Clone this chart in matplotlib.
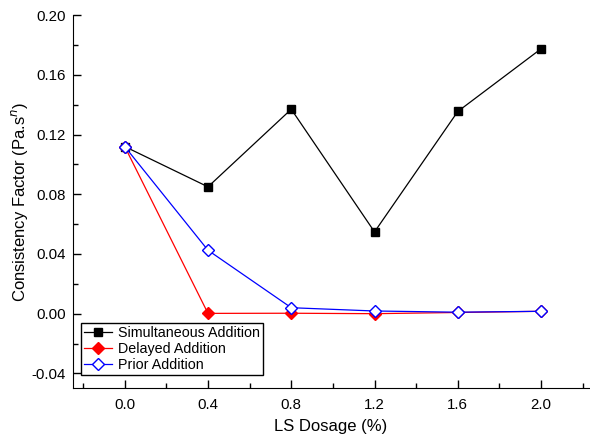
import matplotlib
matplotlib.use("Agg")
import matplotlib.pyplot as plt
from matplotlib.ticker import MultipleLocator, FormatStrFormatter

plt.rcParams['font.family'] = ['Liberation Sans', 'DejaVu Sans']

# Dados
dosagem = [0.0, 0.4, 0.8, 1.2, 1.6, 2.0]
simultanea = [0.1120, 0.0850, 0.1370, 0.0548, 0.1355, 0.1775]
atrasada = [0.1120, 0.0002, 0.0003, 0.0000, 0.0008, 0.0016]
previa = [0.1120, 0.0425, 0.0040, 0.0018, 0.0010, 0.0016]

fig = plt.figure(figsize=(5.9, 4.41), dpi=100)
ax = fig.add_axes([0.1232, 0.1195, 0.875, 0.846])

ax.plot(dosagem, simultanea, color='black', lw=0.9, marker='s', ms=5.5,
        mfc='black', mec='black', label='Simultaneous Addition')
ax.plot(dosagem, atrasada, color='red', lw=0.9, marker='D', ms=6,
        mfc='red', mec='red', label='Delayed Addition')
ax.plot(dosagem, previa, color='blue', lw=0.9, marker='D', ms=6,
        mfc='white', mec='blue', mew=1.0, label='Prior Addition')

ax.set_xlim(-0.25, 2.23)
ax.set_ylim(-0.05, 0.20)

ax.xaxis.set_major_locator(MultipleLocator(0.4))
ax.xaxis.set_minor_locator(MultipleLocator(0.2))
ax.yaxis.set_major_locator(MultipleLocator(0.04))
ax.yaxis.set_minor_locator(MultipleLocator(0.02))
ax.xaxis.set_major_formatter(FormatStrFormatter('%.1f'))
ax.yaxis.set_major_formatter(FormatStrFormatter('%.2f'))

ax.tick_params(which='both', direction='in', labelsize=10.8, width=1)
ax.tick_params(which='major', length=6)
ax.tick_params(which='minor', length=3.5)
ax.tick_params(axis='x', which='major', pad=7)
ax.tick_params(axis='y', which='major', pad=5)

# Apenas os eixos esquerdo e inferior
ax.spines['top'].set_visible(False)
ax.spines['right'].set_visible(False)

ax.set_xlabel('LS Dosage (%)', fontsize=12, labelpad=5)
ax.set_ylabel('Consistency Factor (Pa.s$^{n}$)', fontsize=12, labelpad=1)

leg = ax.legend(loc='lower left', bbox_to_anchor=(0.0155, 0.0356),
                borderaxespad=0, fontsize=10.3, fancybox=False,
                edgecolor='black', framealpha=1, handlelength=2.0,
                borderpad=0.2, labelspacing=0.15, handletextpad=0.4)
leg.get_frame().set_linewidth(1.0)

fig.savefig('out.png', dpi=100, facecolor='white')
